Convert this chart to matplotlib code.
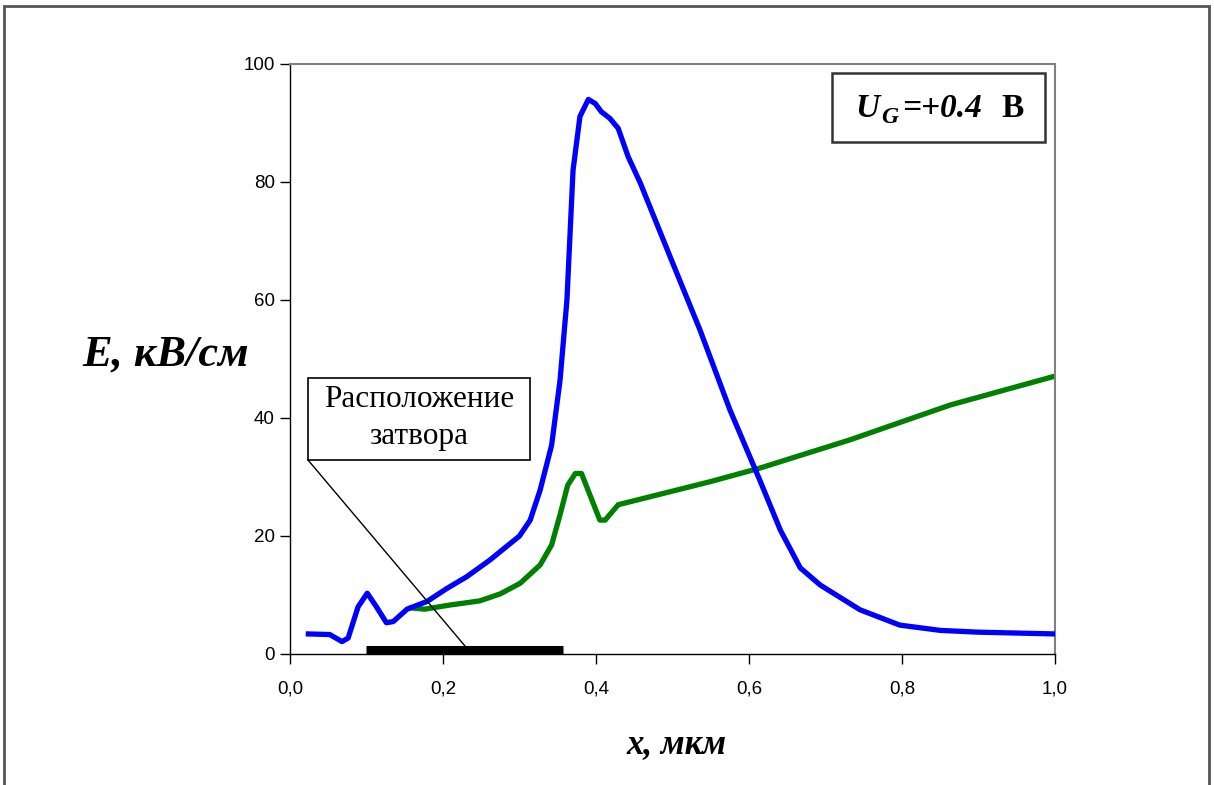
import matplotlib.pyplot as plt
from matplotlib.patches import Rectangle
from matplotlib.ticker import FuncFormatter

# blue curve: E(x)
x_blue = [0.024, 0.052, 0.068, 0.076, 0.089, 0.101, 0.113, 0.126, 0.135, 0.153, 0.161,
          0.179, 0.205, 0.231, 0.261, 0.300, 0.314, 0.327, 0.342, 0.353, 0.362, 0.370,
          0.379, 0.390, 0.399, 0.407, 0.418, 0.429, 0.442, 0.458, 0.497, 0.536, 0.575,
          0.614, 0.641, 0.667, 0.693, 0.745, 0.797, 0.850, 0.900, 1.000]
e_blue = [3.4, 3.3, 2.1, 2.7, 8.0, 10.3, 8.0, 5.3, 5.5, 7.6, 8.0,
          8.9, 11.1, 13.1, 15.9, 20.0, 22.7, 27.8, 35.4, 46.4, 60.0, 82.0,
          91.1, 94.0, 93.3, 91.9, 90.8, 89.1, 84.3, 79.8, 67.3, 54.9, 41.4,
          29.5, 21.0, 14.6, 11.7, 7.5, 4.9, 4.0, 3.7, 3.4]

# green curve
x_green = [0.159, 0.176, 0.209, 0.248, 0.275, 0.301, 0.327, 0.342, 0.353, 0.363, 0.373,
           0.381, 0.405, 0.412, 0.429, 0.549, 0.614, 0.732, 0.863, 1.000]
e_green = [7.8, 7.6, 8.3, 9.0, 10.2, 12.0, 15.1, 18.5, 23.6, 28.6, 30.6,
           30.6, 22.7, 22.7, 25.3, 29.2, 31.5, 36.3, 42.2, 47.1]

# gate position
gate_x = [0.099, 0.357]
gate_y = [0.7, 0.7]

W, H = 1214, 785

fig = plt.figure(figsize=(12.14, 7.85), dpi=100)
ax = fig.add_axes([290 / W, 1 - 654 / H, 765 / W, 590 / H])

ax.plot(x_blue, e_blue, color='#0000ff', lw=3.8, solid_joinstyle='round', zorder=3)
ax.plot(x_green, e_green, color='#008000', lw=3.8, solid_joinstyle='round', zorder=2)
ax.plot(gate_x, gate_y, color='black', lw=6.5, solid_capstyle='butt', zorder=4, clip_on=False)

ax.set_xlim(0, 1.0)
ax.set_ylim(0, 100)
ax.set_xticks([0, 0.2, 0.4, 0.6, 0.8, 1.0])
ax.set_yticks([0, 20, 40, 60, 80, 100])
ax.xaxis.set_major_formatter(FuncFormatter(lambda v, p: f'{v:.1f}'.replace('.', ',')))
ax.tick_params(labelsize=13.5, length=7, width=1, direction='out')
ax.tick_params(axis='x', pad=12)
ax.tick_params(axis='y', pad=4)
for lab in ax.get_xticklabels() + ax.get_yticklabels():
    lab.set_family('Liberation Sans')
for s in ['top', 'right']:
    ax.spines[s].set_color('#808080')
    ax.spines[s].set_linewidth(1.5)
for s in ['left', 'bottom']:
    ax.spines[s].set_linewidth(1.0)

fig.text(676 / W, 1 - 745 / H, 'x, мкм', family='Liberation Serif', style='italic',
         weight='bold', fontsize=25, ha='center', va='center')
fig.text(166 / W, 1 - 355 / H, 'E, кВ/см', family='Liberation Serif', style='italic',
         weight='bold', fontsize=32, ha='center', va='center')

# callout
fig.patches.append(Rectangle((308 / W, 1 - 460 / H), 222 / W, 82 / H,
                             transform=fig.transFigure, fill=False, ec='black', lw=1.2))
fig.text(419 / W, 1 - 418 / H, 'Расположение\nзатвора', family='Liberation Serif',
         fontsize=22.5, ha='center', va='center', linespacing=1.35)
fig.add_artist(plt.Line2D([308 / W, 465 / W], [1 - 460 / H, 1 - 646 / H],
                          transform=fig.transFigure, color='black', lw=1.0))

# U_G box
fig.patches.append(Rectangle((832 / W, 1 - 142 / H), 213 / W, 69 / H,
                             transform=fig.transFigure, fill=False, ec='#333333', lw=1.8))
bi = dict(family='Liberation Serif', style='italic', weight='bold', va='baseline', ha='left')
fig.text(855 / W, 1 - 117 / H, 'U', fontsize=24, **bi)
fig.text(881 / W, 1 - 123 / H, 'G', fontsize=17, **bi)
fig.text(902 / W, 1 - 117 / H, '=+0.4', fontsize=24, **bi)
fig.text(1001 / W, 1 - 117 / H, 'В', family='Liberation Serif', weight='bold',
         fontsize=24, ha='left', va='baseline')

# outer frame
fig.patches.append(Rectangle((4 / W, -0.05), 1205 / W, 1.05 - 6 / H,
                             transform=fig.transFigure, fill=False, ec='#555555', lw=2.0))

fig.savefig('out.png', dpi=100)
